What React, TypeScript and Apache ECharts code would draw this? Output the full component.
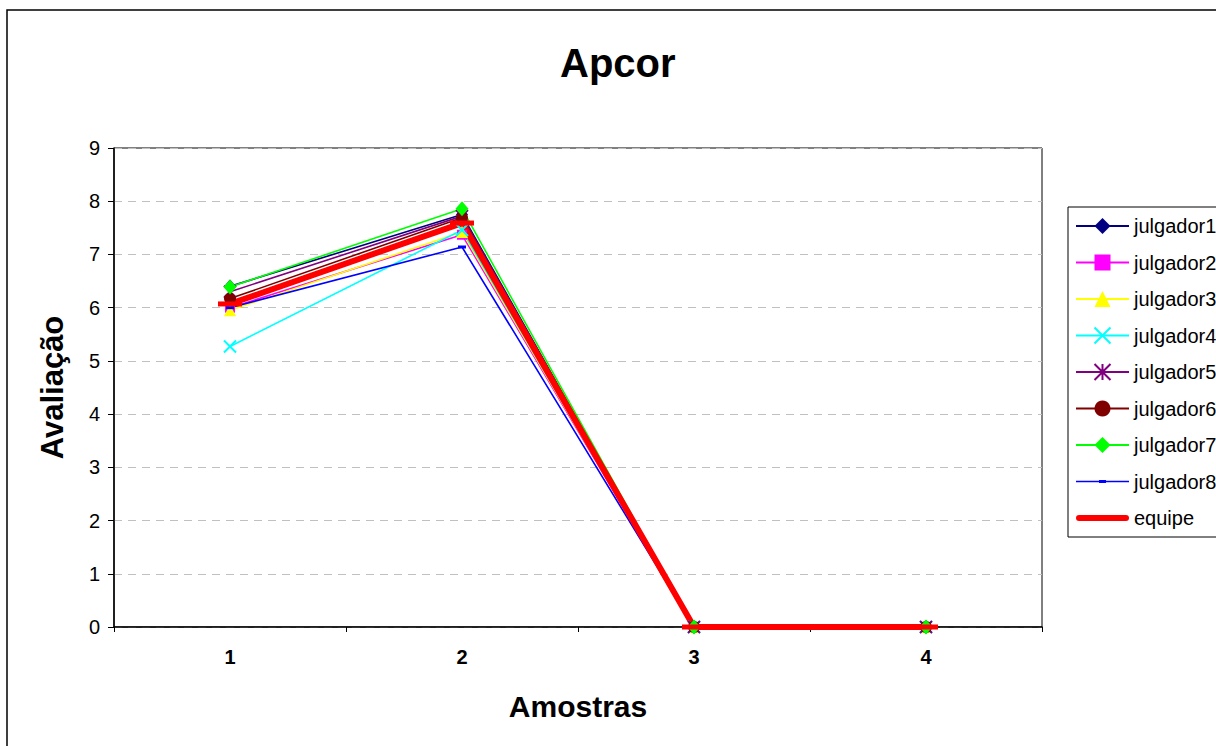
import React, { useEffect, useRef } from "react";
import * as echarts from "echarts";

const categories = ["1", "2", "3", "4"];
const julgador1 = [6.4, 7.75, 0, 0];
const julgador2 = [6.0, 7.37, 0, 0];
const julgador3 = [5.95, 7.42, 0, 0];
const julgador4 = [5.27, 7.46, 0, 0];
const julgador5 = [6.3, 7.72, 0, 0];
const julgador6 = [6.17, 7.69, 0, 0];
const julgador7 = [6.39, 7.86, 0, 0];
const julgador8 = [6.0, 7.14, 0, 0];
const equipe = [6.07, 7.59, 0, 0];
const yTicks = { min: 0, max: 9, interval: 1 };

const FONT = "'Liberation Sans', Arial, sans-serif";

export default function App() {
  const ref = useRef<HTMLDivElement>(null);
  useEffect(() => {
    if (!ref.current) return;
    const chart = echarts.init(ref.current, undefined, { renderer: "svg" });
    const mk = (
      name: string,
      data: number[],
      color: string,
      symbol: string,
      symbolSize: any,
      extraItem: any = {}
    ) => ({
      name,
      type: "line",
      data,
      symbol,
      symbolSize,
      showAllSymbol: true,
      lineStyle: { color, width: 1.6 },
      itemStyle: { color, ...extraItem },
    });
    chart.setOption({
      animation: false,
      backgroundColor: "#fff",
      textStyle: { fontFamily: FONT },
      title: {
        text: "Apcor",
        left: 560,
        top: 43,
        padding: 0,
        textStyle: { fontFamily: FONT, fontSize: 40, fontWeight: "bold", color: "#000" },
      },
      graphic: [
        {
          type: "rect",
          shape: { x: 7, y: 10, width: 1400, height: 900 },
          style: { fill: "none", stroke: "#000", lineWidth: 1.5 },
          z: -1,
          silent: true,
        },
      ],
      grid: {
        left: 114,
        top: 148,
        width: 928,
        height: 479,
        show: true,
        borderColor: "#000",
        borderWidth: 1,
        backgroundColor: "transparent",
      },
      legend: {
        orient: "vertical",
        left: 1068,
        top: 207,
        padding: [8, 12, 8, 7],
        itemWidth: 53,
        itemHeight: 20,
        itemGap: 14.5,
        borderColor: "#000",
        borderWidth: 1,
        backgroundColor: "#fff",
        textStyle: { fontFamily: FONT, fontSize: 20, color: "#000", lineHeight: 22 },
        data: [
          "julgador1",
          "julgador2",
          "julgador3",
          "julgador4",
          "julgador5",
          "julgador6",
          "julgador7",
          {
            name: "julgador8",
            icon: "path://M0,6.2L53,6.2L53,7.8L0,7.8ZM23,5.5L30,5.5L30,8.5L23,8.5Z",
          },
          {
            name: "equipe",
            icon: "path://M3,0L50,0A3,3,0,0,1,50,6L3,6A3,3,0,0,1,3,0Z",
          },
        ],
      },
      xAxis: {
        type: "category",
        data: categories,
        boundaryGap: true,
        name: "Amostras",
        nameLocation: "middle",
        nameGap: 64,
        nameTextStyle: { fontFamily: FONT, fontSize: 30, fontWeight: "bold", color: "#000" },
        axisLine: { lineStyle: { color: "#000", width: 1.5 } },
        axisTick: { show: true, length: 5, lineStyle: { color: "#000" } },
        axisLabel: { fontFamily: FONT, fontSize: 20, fontWeight: "bold", color: "#000", margin: 20 },
        splitLine: { show: false },
      },
      yAxis: {
        type: "value",
        min: yTicks.min,
        max: yTicks.max,
        interval: yTicks.interval,
        name: "Avaliação",
        nameLocation: "middle",
        nameGap: 46,
        nameTextStyle: { fontFamily: FONT, fontSize: 31, fontWeight: "bold", color: "#000" },
        axisLine: { show: true, lineStyle: { color: "#000", width: 1.5 } },
        axisTick: { show: true, length: 6, lineStyle: { color: "#000" } },
        axisLabel: { fontFamily: FONT, fontSize: 20, color: "#000", margin: 14 },
        splitLine: { show: true, lineStyle: { color: "#c0c0c0", type: [8, 6], width: 1 } },
      },
      series: [
        mk("julgador1", julgador1, "#000080", "diamond", [12, 14]),
        mk("julgador2", julgador2, "#ff00ff", "rect", 10),
        mk("julgador3", julgador3, "#ffff00", "triangle", 12),
        mk("julgador4", julgador4, "#00ffff", "path://M0,0L10,10M10,0L0,10", 12, {
          borderColor: "#00ffff",
          borderWidth: 2,
        }),
        mk("julgador5", julgador5, "#800080", "path://M0,0L10,10M10,0L0,10M5,0L5,10", 12, {
          borderColor: "#800080",
          borderWidth: 2,
        }),
        mk("julgador6", julgador6, "#800000", "circle", 12),
        mk("julgador7", julgador7, "#00ff00", "diamond", [13, 15]),
        mk("julgador8", julgador8, "#0000ff", "rect", [8, 3]),
        {
          name: "equipe",
          type: "line",
          data: equipe,
          symbol: "rect",
          symbolSize: [24, 5],
          showAllSymbol: true,
          lineStyle: { color: "#ff0000", width: 6, cap: "round" },
          itemStyle: { color: "#ff0000" },
        },
      ],
    });
    return () => chart.dispose();
  }, []);
  return (
    <div
      ref={ref}
      style={{ position: "fixed", left: 0, top: 0, width: 1216, height: 746 }}
    />
  );
}
